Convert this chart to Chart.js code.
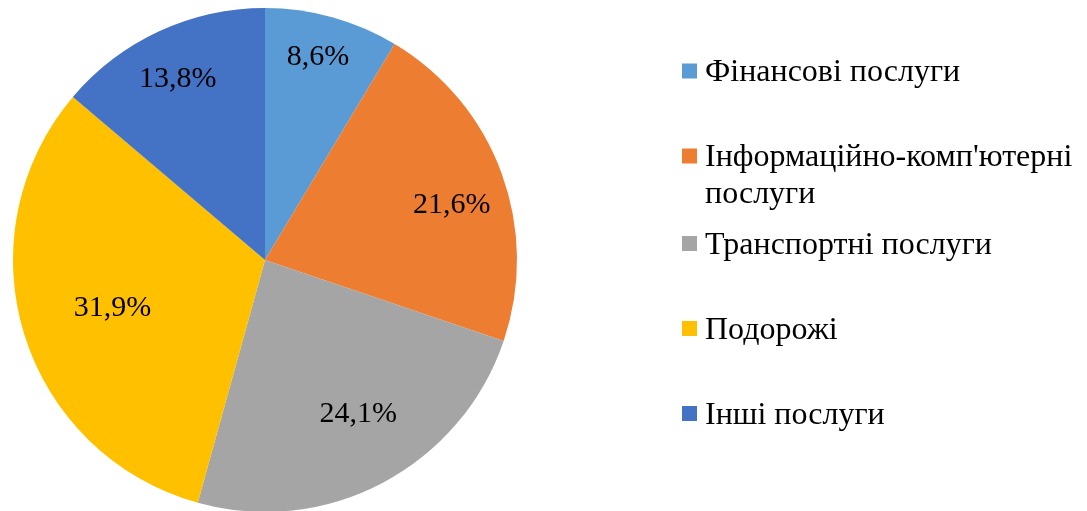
<!DOCTYPE html>
<html>
<head>
<meta charset="utf-8">
<script src="https://cdn.jsdelivr.net/npm/chart.js@4/dist/chart.umd.min.js"></script>
<style>
  html, body { margin: 0; padding: 0; background: #fff; overflow: hidden; }
  #wrap { position: relative; width: 1087px; height: 520px; }
</style>
</head>
<body>
<div id="wrap"><canvas id="c" width="1087" height="520"></canvas></div>
<script>
const categories = [
  "Фінансові послуги",
  "Інформаційно-комп'ютерні послуги",
  "Транспортні послуги",
  "Подорожі",
  "Інші послуги"
];
const shares = [8.6, 21.6, 24.1, 31.9, 13.8];
const valueLabels = ["8,6%", "21,6%", "24,1%", "31,9%", "13,8%"];
const colors = ["#5B9BD5", "#ED7D31", "#A5A5A5", "#FFC000", "#4472C4"];

const FONT = "'Liberation Serif', 'Times New Roman', serif";
// label placement style (fraction of radius, angular nudge in degrees)
const labelRadius = [0.842, 0.775, 0.707, 0.632, 0.805];
const labelNudge = [-1.0, 3.1, -3.7, 0.5, -0.6];

const labelPlugin = {
  id: 'sliceLabels',
  afterDatasetsDraw(chart) {
    const ctx = chart.ctx;
    const meta = chart.getDatasetMeta(0);
    ctx.save();
    ctx.font = "30px " + FONT;
    ctx.fillStyle = "#000";
    ctx.textAlign = "center";
    ctx.textBaseline = "alphabetic";
    meta.data.forEach((arc, i) => {
      const p = arc.getProps(['x', 'y', 'startAngle', 'endAngle', 'outerRadius'], true);
      const mid = (p.startAngle + p.endAngle) / 2 + labelNudge[i] * Math.PI / 180;
      const r = p.outerRadius * labelRadius[i];
      ctx.fillText(valueLabels[i], p.x + Math.cos(mid) * r, p.y + Math.sin(mid) * r + 10.5);
    });
    ctx.restore();
  }
};

const legendPlugin = {
  id: 'sideLegend',
  afterDraw(chart) {
    const ctx = chart.ctx;
    ctx.save();
    ctx.font = "32px " + FONT;
    ctx.textBaseline = "middle";
    ctx.textAlign = "left";
    const boxX = 682, box = 15, textX = 705, maxW = 1085 - textX;
    const lineH = 37;
    let y = 71;
    categories.forEach((name, i) => {
      const words = name.split(' ');
      const lines = [];
      let cur = '';
      words.forEach(w => {
        const t = cur ? cur + ' ' + w : w;
        if (ctx.measureText(t).width > maxW && cur) { lines.push(cur); cur = w; }
        else cur = t;
      });
      if (cur) lines.push(cur);
      ctx.fillStyle = colors[i];
      ctx.fillRect(boxX, y - box / 2, box, box);
      ctx.fillStyle = "#000";
      lines.forEach((ln, k) => ctx.fillText(ln, textX, y + 2 + k * lineH));
      y += 85 + (lines.length - 1) * 2.5;
    });
    ctx.restore();
  }
};

new Chart(document.getElementById('c'), {
  type: 'pie',
  data: {
    labels: categories,
    datasets: [{
      data: shares,
      backgroundColor: colors,
      borderWidth: 0
    }]
  },
  options: {
    responsive: false,
    animation: false,
    layout: { padding: { left: 13, right: 570, top: 8, bottom: 8 } },
    plugins: {
      legend: { display: false },
      tooltip: { enabled: false }
    }
  },
  plugins: [labelPlugin, legendPlugin]
});
</script>
</body>
</html>
